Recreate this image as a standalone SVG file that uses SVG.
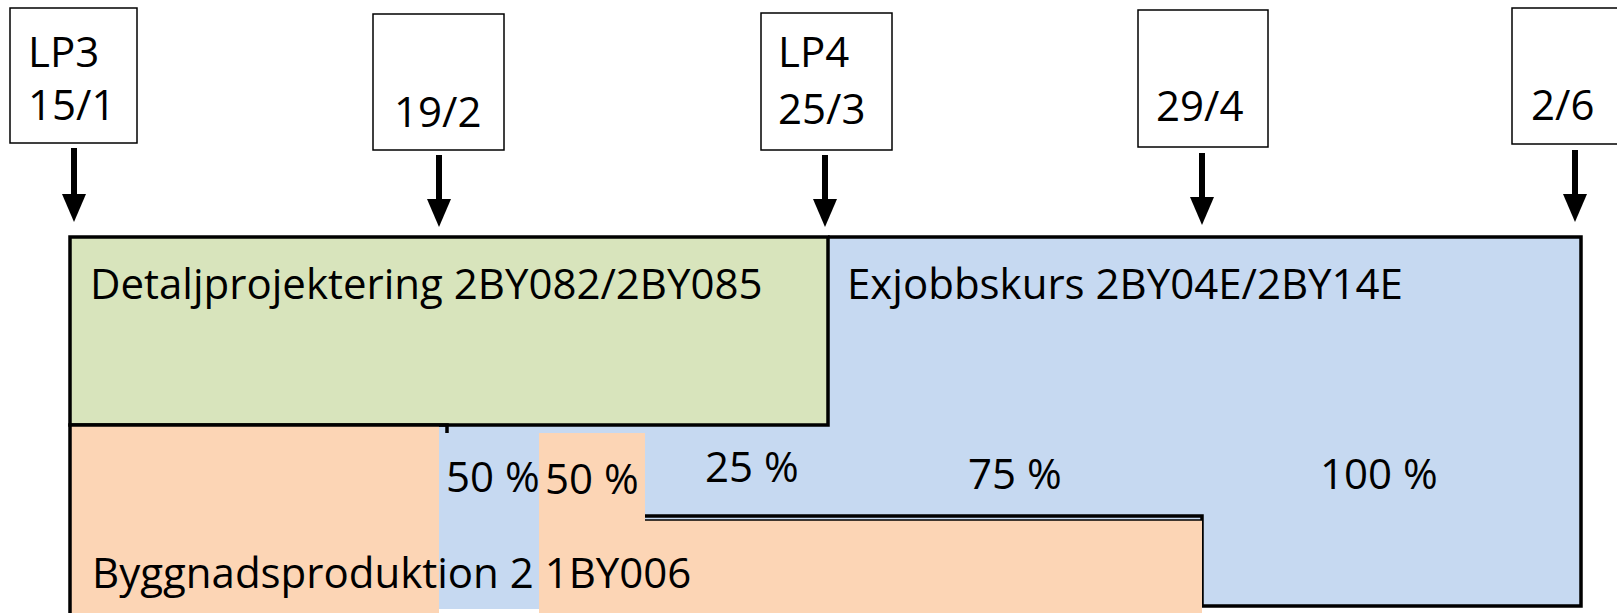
<svg xmlns="http://www.w3.org/2000/svg" width="1617" height="613" viewBox="0 0 1617 613">
<style>
text{font-family:"Open Sans",Lato,sans-serif;font-size:42px;fill:#000}
.box{fill:#fff;stroke:#000;stroke-width:1.5}
.edge{fill:none;stroke:#000;stroke-width:3.5}
.arr{stroke:#000;stroke-width:6;fill:none;marker-end:url(#ah)}
</style>
<defs>
<marker id="ah" markerUnits="userSpaceOnUse" markerWidth="28" markerHeight="24" refX="6" refY="12" orient="auto" viewBox="0 0 28 24">
<path d="M0,0 L28,12 L0,24 Z" fill="#000"/>
</marker>
</defs>
<rect width="1617" height="613" fill="#fff"/>

<g id="bars">
<g id="exjobb">
<rect x="439" y="237" width="1142" height="369" fill="#C6D9F1"/>
<rect x="439" y="425" width="100" height="184" fill="#C6D9F1"/>
<path class="edge" d="M828,237 H1581 V606 H1202 V516 H645"/>
<text x="847" y="299">Exjobbskurs 2BY04E/2BY14E</text>
</g>
<g id="detalj">
<rect x="70" y="237" width="758" height="188" fill="#D8E4BC" stroke="#000" stroke-width="3.5"/>
<text x="90" y="299">Detaljprojektering 2BY082/2BY085</text>
</g>
<g id="bygg">
<rect x="70" y="425" width="369" height="190" fill="#FCD5B5"/>
<rect x="539" y="433" width="106" height="182" fill="#FCD5B5"/>
<rect x="645" y="520" width="557" height="95" fill="#FCD5B5"/>
<path class="edge" d="M70,615 V425 H447 V433"/>
<line x1="645" y1="520" x2="1202" y2="520" stroke="#000" stroke-width="1.5"/>
<text x="92" y="588">Byggnadsproduktion 2 1BY006</text>
</g>
<g id="pct">
<text x="446" y="492">50 %</text>
<text x="545" y="494">50 %</text>
<text x="705" y="482">25 %</text>
<text x="968" y="489">75 %</text>
<text x="1320" y="489">100 %</text>
</g>
</g>

<g id="lp3"><rect class="box" x="10" y="8" width="127" height="135"/><text x="28" y="67">LP3</text><text x="28" y="120">15/1</text></g>
<g id="d19-2"><rect class="box" x="373" y="14" width="131" height="136"/><text x="394" y="127">19/2</text></g>
<g id="lp4"><rect class="box" x="761" y="13" width="131" height="137"/><text x="778" y="67">LP4</text><text x="778" y="124">25/3</text></g>
<g id="d29-4"><rect class="box" x="1138" y="10" width="130" height="137"/><text x="1156" y="121">29/4</text></g>
<g id="d2-6"><rect class="box" x="1512" y="8" width="120" height="136"/><text x="1531" y="120">2/6</text></g>

<g id="connectors">
<line class="arr" x1="74" y1="148" x2="74" y2="200"/>
<line class="arr" x1="439" y1="155" x2="439" y2="205"/>
<line class="arr" x1="825" y1="155" x2="825" y2="205"/>
<line class="arr" x1="1202" y1="153" x2="1202" y2="203"/>
<line class="arr" x1="1575" y1="150" x2="1575" y2="200"/>
</g>
</svg>
